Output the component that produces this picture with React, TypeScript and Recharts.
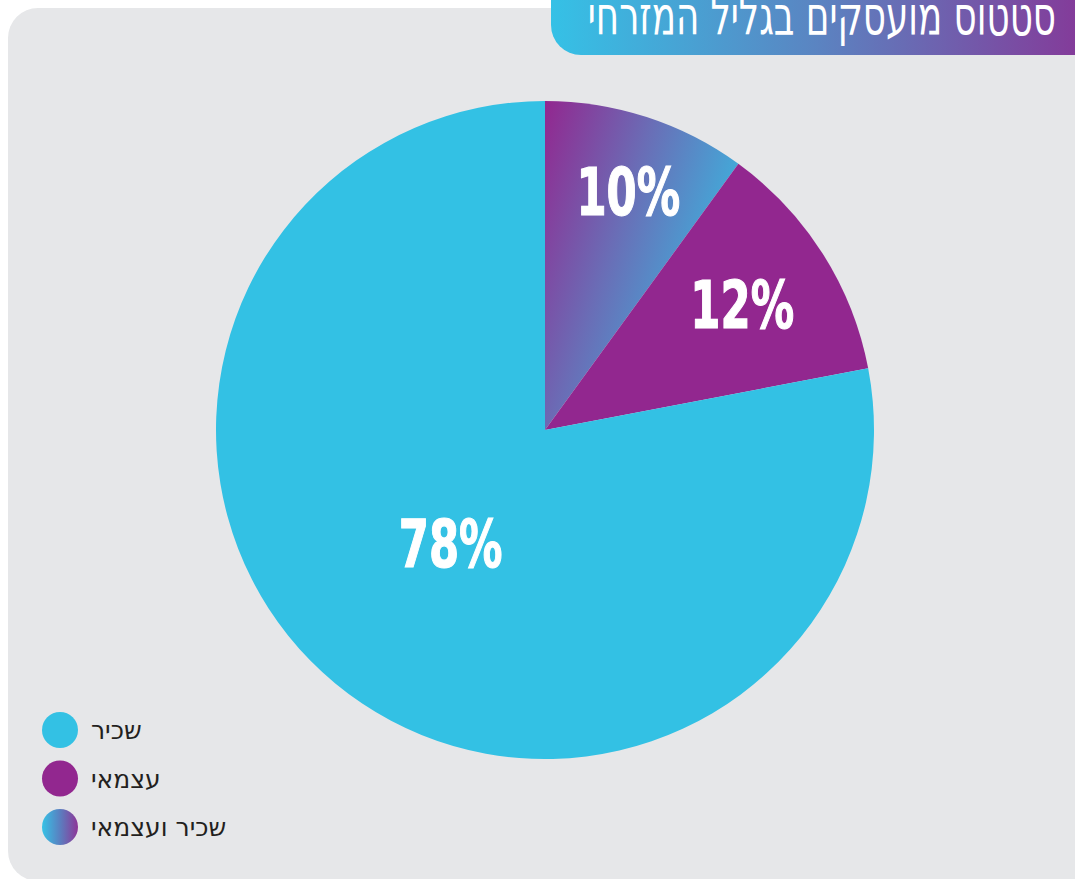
import React from 'react';
import { PieChart, Pie, Cell, Legend } from 'recharts';

const categories = ['שכיר ועצמאי', 'עצמאי', 'שכיר'];
const values = [10, 12, 78];
const legendOrder = ['שכיר', 'עצמאי', 'שכיר ועצמאי'];
const title = 'סטטוס מועסקים בגליל המזרחי';

const CYAN = '#33c1e4';
const PURPLE = '#92278f';
const fills = ['url(#mixGrad)', PURPLE, CYAN];
const legendFills: Record<string, string> = {
  'שכיר': CYAN,
  'עצמאי': PURPLE,
  'שכיר ועצמאי': 'url(#legendGrad)',
};

const data = categories.map((name, i) => ({ name, value: values[i] }));
const LABEL_R = [0.77, 0.71, 0.45];
const RAD = Math.PI / 180;

const renderLabel = (props: any) => {
  const { cx, cy, midAngle, outerRadius, index, value } = props;
  const r = outerRadius * LABEL_R[index];
  const x = cx + r * Math.cos(midAngle * RAD);
  const y = cy - r * Math.sin(midAngle * RAD);
  return (
    <text
      x={0}
      y={0}
      transform={`translate(${x + (index === 0 ? 5 : 0)},${y + (index === 0 ? 3 : 0)}) scale(0.73,1)`}
      fill="#ffffff"
      stroke="#ffffff"
      strokeWidth={1.2}
      textAnchor="middle"
      dominantBaseline="central"
      fontFamily="'DejaVu Sans Condensed', 'DejaVu Sans', sans-serif"
      fontWeight="bold"
      fontSize={66}
    >
      {`${value}%`}
    </text>
  );
};

const renderLegend = () => (
  <svg width={280} height={160}>
    <defs>
      <linearGradient id="legendGrad" x1="0" y1="0" x2="1" y2="0">
        <stop offset="0" stopColor="#36c3e6" />
        <stop offset="0.5" stopColor="#5a7fc0" />
        <stop offset="1" stopColor="#8e3597" />
      </linearGradient>
    </defs>
    {legendOrder.map((name, i) => (
      <g key={name}>
        <circle cx={60} cy={40 + i * 48.5} r={18} fill={legendFills[name]} />
        <text
          x={91}
          y={40 + i * 48.5 + 9}
          textAnchor="start"
          fontFamily="'DejaVu Sans', 'Open Sans', sans-serif"
          fontSize={25}
          fill="#231f20"
        >
          {name}
        </text>
      </g>
    ))}
  </svg>
);

export default function App() {
  return (
    <div style={{ position: 'absolute', left: 0, top: 0, width: 1075, height: 879, overflow: 'hidden', background: '#ffffff' }}>
      <div
        style={{
          position: 'absolute',
          left: 8,
          top: 8,
          width: 1120,
          height: 873,
          borderRadius: 30,
          background: '#e6e7e9',
        }}
      />
      <div style={{ position: 'absolute', left: 0, top: 0 }}>
        <PieChart width={1075} height={879} margin={{ top: 0, right: 0, bottom: 0, left: 0 }}>
          <defs>
            <linearGradient id="mixGrad" x1="0" y1="0" x2="1" y2="0.55">
              <stop offset="0" stopColor="#92278f" />
              <stop offset="0.45" stopColor="#6a6db6" />
              <stop offset="1" stopColor="#36bde4" />
            </linearGradient>
          </defs>
          <Pie
            data={data}
            dataKey="value"
            nameKey="name"
            cx={545}
            cy={430}
            outerRadius={329}
            startAngle={90}
            endAngle={-270}
            stroke="none"
            label={renderLabel}
            labelLine={false}
            isAnimationActive={false}
          >
            {data.map((d, i) => (
              <Cell key={d.name} fill={fills[i]} stroke="none" />
            ))}
          </Pie>
          <Legend content={renderLegend} wrapperStyle={{ position: 'absolute', left: 0, top: 690, width: 280, height: 160 }} />
        </PieChart>
      </div>
      <svg style={{ position: 'absolute', left: 0, top: 0 }} width={1075} height={879} pointerEvents="none">
        <defs>
          <linearGradient id="titleGrad" x1="0" y1="0" x2="1" y2="0">
            <stop offset="0" stopColor="#35c1e6" />
            <stop offset="0.5" stopColor="#5a85c2" />
            <stop offset="1" stopColor="#833c9a" />
          </linearGradient>
        </defs>
        <path d="M551 -10 L1075 -10 L1075 55 L581 55 A30 30 0 0 1 551 25 Z" fill="url(#titleGrad)" />
        <text
          x={0}
          y={0}
          transform="translate(1056,35) scale(0.735,1)"
          textAnchor="end"
          fontFamily="'DejaVu Sans Condensed', 'Liberation Sans Narrow', sans-serif"
          fontSize={54}
          fill="#ffffff"
        >
          {title}
        </text>
      </svg>
    </div>
  );
}
